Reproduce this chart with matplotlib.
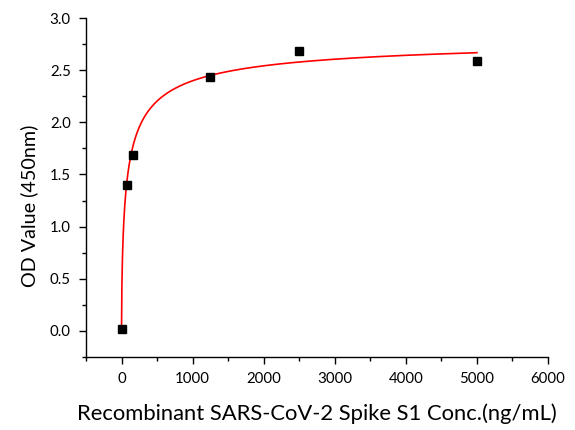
import numpy as np
import matplotlib
matplotlib.use("Agg")
import matplotlib.pyplot as plt
from matplotlib.ticker import MultipleLocator

# Data
conc = [0, 78.125, 156.25, 1250, 2500, 5000]
od = [0.02, 1.40, 1.69, 2.43, 2.68, 2.59]

# Four-parameter logistic fit parameters (estimated)
fit_bottom = 0.02
fit_top = 2.84
fit_ec50 = 75.0
fit_slope = 0.65

xlabel = "Recombinant SARS-CoV-2 Spike S1 Conc.(ng/mL)"
ylabel = "OD Value (450nm)"

plt.rcParams['font.family'] = ['Lato', 'DejaVu Sans']

fig = plt.figure(figsize=(5.75, 4.3), dpi=100)
ax = fig.add_axes([86/575, (430-357)/430, (548-86)/575, (357-18)/430])

xs = np.linspace(0, max(conc), 2000)
ys = fit_top - (fit_top - fit_bottom) / (1 + (xs / fit_ec50) ** fit_slope)
ax.plot(xs, ys, color='#ff0000', lw=1.2, zorder=2)
ax.plot(conc, od, 's', color='black', ms=5.8, zorder=3)

ax.set_xlim(-500, 6000)
ax.set_ylim(-0.25, 3.0)
ax.xaxis.set_major_locator(MultipleLocator(1000))
ax.xaxis.set_minor_locator(MultipleLocator(500))
ax.yaxis.set_major_locator(MultipleLocator(0.5))
ax.yaxis.set_minor_locator(MultipleLocator(0.25))
ax.yaxis.set_major_formatter(matplotlib.ticker.FormatStrFormatter('%.1f'))

for s in ['top', 'right']:
    ax.spines[s].set_visible(False)
for s in ['left', 'bottom']:
    ax.spines[s].set_linewidth(1.0)

ax.tick_params(which='major', direction='out', length=5, width=1.0, labelsize=10.8, pad=6)
ax.tick_params(which='minor', direction='out', length=3, width=1.0)

ax.set_xlabel(xlabel, fontsize=15.8, labelpad=12)
ax.set_ylabel(ylabel, fontsize=14.2)
ax.yaxis.set_label_coords(-0.104, 0.445)

fig.savefig("out.png", dpi=100)
